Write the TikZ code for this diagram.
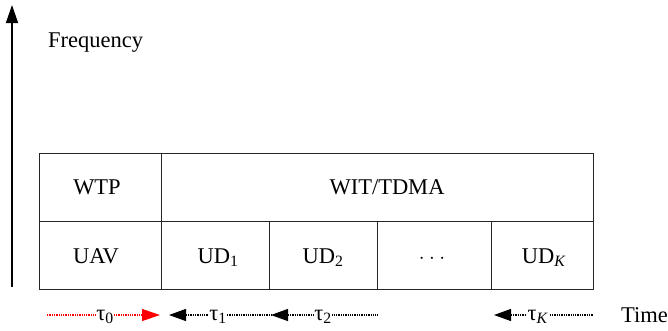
\documentclass[tikz,border=0pt]{standalone}
\usepackage{fontspec}
\setmainfont{Liberation Serif}
\usetikzlibrary{arrows.meta}
\begin{document}
\begin{tikzpicture}[x=1pt,y=-1pt,
  cell/.style={draw=black!85, line width=1pt, minimum height=68pt, inner sep=0pt, outer sep=0pt},
  txt/.style={inner sep=0pt, anchor=base, font=\fontsize{22.5pt}{27pt}\selectfont},
  taulbl/.style={txt, fill=white, inner sep=0.6pt},
  dotline/.style={line width=1.1pt, dash pattern=on 1.3pt off 1pt},
  tip/.style={-{Triangle[length=18pt,width=12pt]}},
  tipl/.style={{Triangle[length=17pt,width=12pt]}-}]
\useasboundingbox (0,0) rectangle (668,330);
% frequency axis
\coordinate (fb) at (12,287);
\coordinate (ft) at (12,5);
\draw[line width=1.5pt, -{Triangle[length=18pt,width=12pt]}] (fb) -- (ft);
\node[txt, anchor=base west] (freq) at (48,47) {Frequency};
% table cells
\node[cell, minimum width=122pt] (wtp) at (100,187) {};
\node[cell, minimum width=432pt] (wit) at (377,187) {};
\node[cell, minimum width=122pt] (uav) at (100,255) {};
\node[cell, minimum width=108pt] (ud1) at (215,255) {};
\node[cell, minimum width=108pt] (ud2) at (323,255) {};
\node[cell, minimum width=114pt] (udd) at (434,255) {};
\node[cell, minimum width=102pt] (udk) at (542,255) {};
% labels
\node[txt] (lwtp) at (97,194) {WTP};
\node[txt] (lwit) at (387,194) {WIT/TDMA};
\node[txt] (luav) at (96,263) {UAV};
\node[txt] (lud1) at (218,263) {UD\textsubscript{1}};
\node[txt] (lud2) at (323,263) {UD\textsubscript{2}};
\node[txt] (ludd) at (432,263) {$\cdot\cdot\cdot$};
\node[txt] (ludk) at (544,263) {UD\textsubscript{\textit{K}}};
% time durations
\coordinate (a0s) at (47,315);
\coordinate (a0e) at (160,315);
\coordinate (a1s) at (169,315);
\coordinate (a1e) at (271,315);
\coordinate (a2s) at (271,315);
\coordinate (a2e) at (378,315);
\coordinate (aks) at (494,315);
\coordinate (ake) at (593,315);
\draw[dotline, red, tip] (a0s) -- (a0e);
\draw[dotline, black, tipl] (a1s) -- (a1e);
\draw[dotline, black, tipl] (a2s) -- (a2e);
\draw[dotline, black, tipl] (aks) -- (ake);
\node[taulbl] (t0) at (105,320) {τ\textsubscript{0}};
\node[taulbl] (t1) at (218,320) {τ\textsubscript{1}};
\node[taulbl] (t2) at (323,320) {τ\textsubscript{2}};
\node[taulbl] (tk) at (538,320) {τ\textsubscript{\textit{K}}};
\node[txt, anchor=base west] (time) at (621,322) {Time};
\end{tikzpicture}
\end{document}
